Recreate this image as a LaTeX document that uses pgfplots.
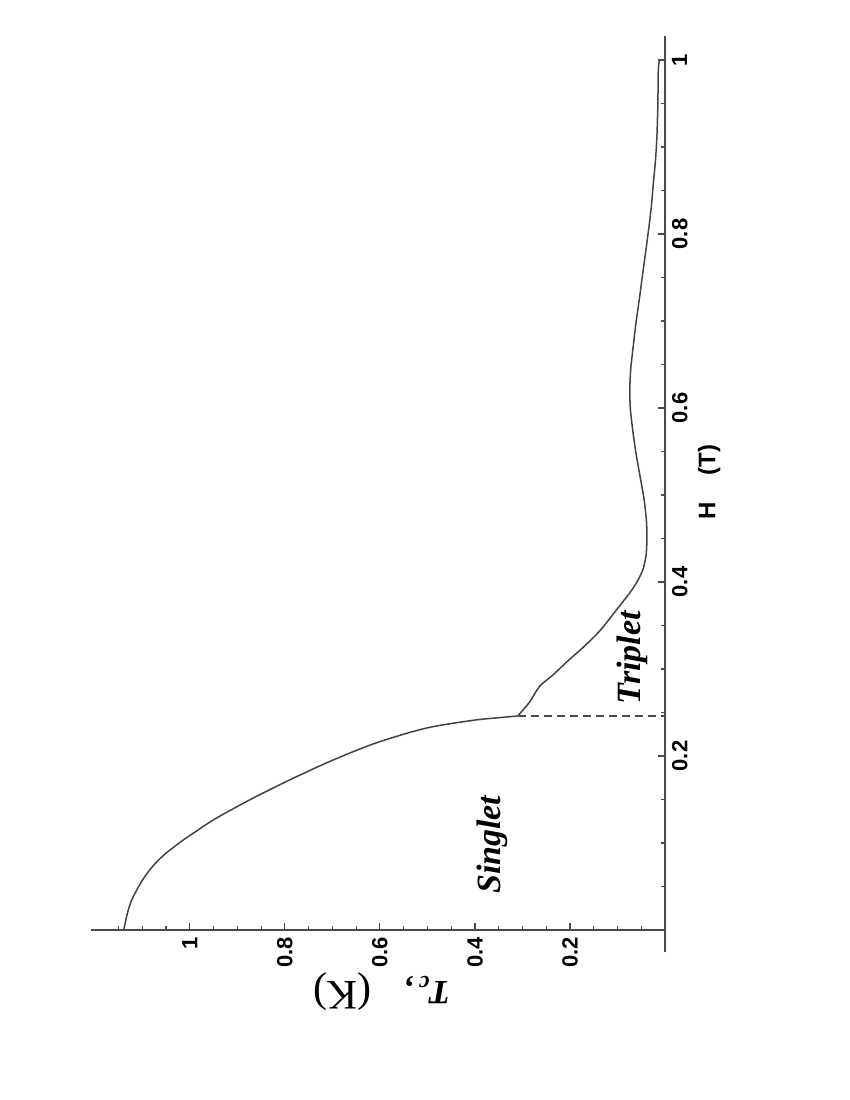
\documentclass[border=0pt]{standalone}
\usepackage{fontspec}
\setsansfont{Liberation Sans}
\newfontfamily\tnr{Liberation Serif}
\usepackage{pgfplots}
\pgfplotsset{compat=1.18}
\definecolor{curvegray}{HTML}{3A4646}
\definecolor{axisgray}{HTML}{4A4A4A}

\begin{document}
\begin{tikzpicture}
\useasboundingbox (0,0) rectangle (425pt,550pt);
\begin{axis}[
  at={(45.5pt,74pt)}, anchor=south west,
  scale only axis, width=287pt, height=458pt,
  x dir=reverse,
  xmin=0, xmax=1.208, ymin=-0.0253, ymax=1.0276,
  axis lines=middle,
  every inner x axis line/.append style={-},
  every inner y axis line/.append style={-},
  axis line style={axisgray, line width=0.7pt},
  tick style={axisgray, line width=0.6pt},
  tick align=inside,
  major tick length=3.5pt, minor tick length=2pt,
  xtick={0.2,0.4,0.6,0.8,1},
  ytick={0.2,0.4,0.6,0.8,1},
  xticklabels={0.2,0.4,0.6,0.8,1},
  yticklabels={0.2,0.4,0.6,0.8,1},
  minor xtick={0.05,0.1,0.15,0.25,0.3,0.35,0.45,0.5,0.55,0.65,0.7,0.75,0.85,0.9,0.95,1.05,1.1,1.15},
  minor ytick={0.05,0.1,0.15,0.25,0.3,0.35,0.45,0.5,0.55,0.65,0.7,0.75,0.85,0.9,0.95},
  x tick label style={rotate=90, anchor=east, font=\sffamily\bfseries\fontsize{11}{13}\selectfont},
  y tick label style={rotate=90, anchor=north, font=\sffamily\bfseries\fontsize{11}{13}\selectfont},
  clip=false,
]
% singlet branch: Tc (K) against H (T)
\addplot[curvegray, line width=0.75pt, smooth] table {
Tc H
1.139 0
1.132 0.018
1.122 0.035
1.100 0.057
1.080 0.072
1.055 0.086
1.020 0.101
0.988 0.113
0.946 0.128
0.869 0.151
0.784 0.174
0.700 0.195
0.608 0.215
0.503 0.232
0.404 0.241
0.350 0.244
0.310 0.246
};
% triplet branch
\addplot[curvegray, line width=0.75pt, smooth, tension=0.5] table {
Tc H
0.310 0.246
0.285 0.262
0.264 0.280
0.236 0.293
0.207 0.308
0.172 0.325
0.137 0.344
0.102 0.368
0.067 0.393
0.048 0.412
0.040 0.430
0.038 0.450
0.039 0.470
0.044 0.495
0.052 0.520
0.061 0.548
0.068 0.575
0.073 0.600
0.074 0.622
0.072 0.645
0.066 0.675
0.061 0.698
0.054 0.725
0.048 0.750
0.041 0.778
0.035 0.803
0.029 0.830
0.025 0.855
0.020 0.885
0.017 0.912
0.015 0.950
0.014 0.990
0.011 1.000
};
\addplot[axisgray, line width=0.6pt, dash pattern=on 4pt off 2.5pt] coordinates {(0.31,0.246) (0,0.246)};
\node[rotate=90, font=\tnr\bfseries\itshape\fontsize{17}{20}\selectfont] at (axis cs:0.364,0.098) {Singlet};
\node[rotate=90, font=\tnr\bfseries\itshape\fontsize{17}{20}\selectfont] at (axis cs:0.069,0.313) {Triplet};
\node[rotate=90, font=\sffamily\bfseries\fontsize{12}{14}\selectfont] at (axis cs:-0.093,0.515) {H\hspace{1.1em}(T)};
\node[rotate=180] at (axis cs:0.596,-0.071) {{\tnr\bfseries\itshape\fontsize{17}{20}\selectfont T\textsubscript{c}\,,}\hspace{1.6em}{\tnr\fontsize{21}{24}\selectfont(K)}};
\end{axis}
\end{tikzpicture}
\end{document}
